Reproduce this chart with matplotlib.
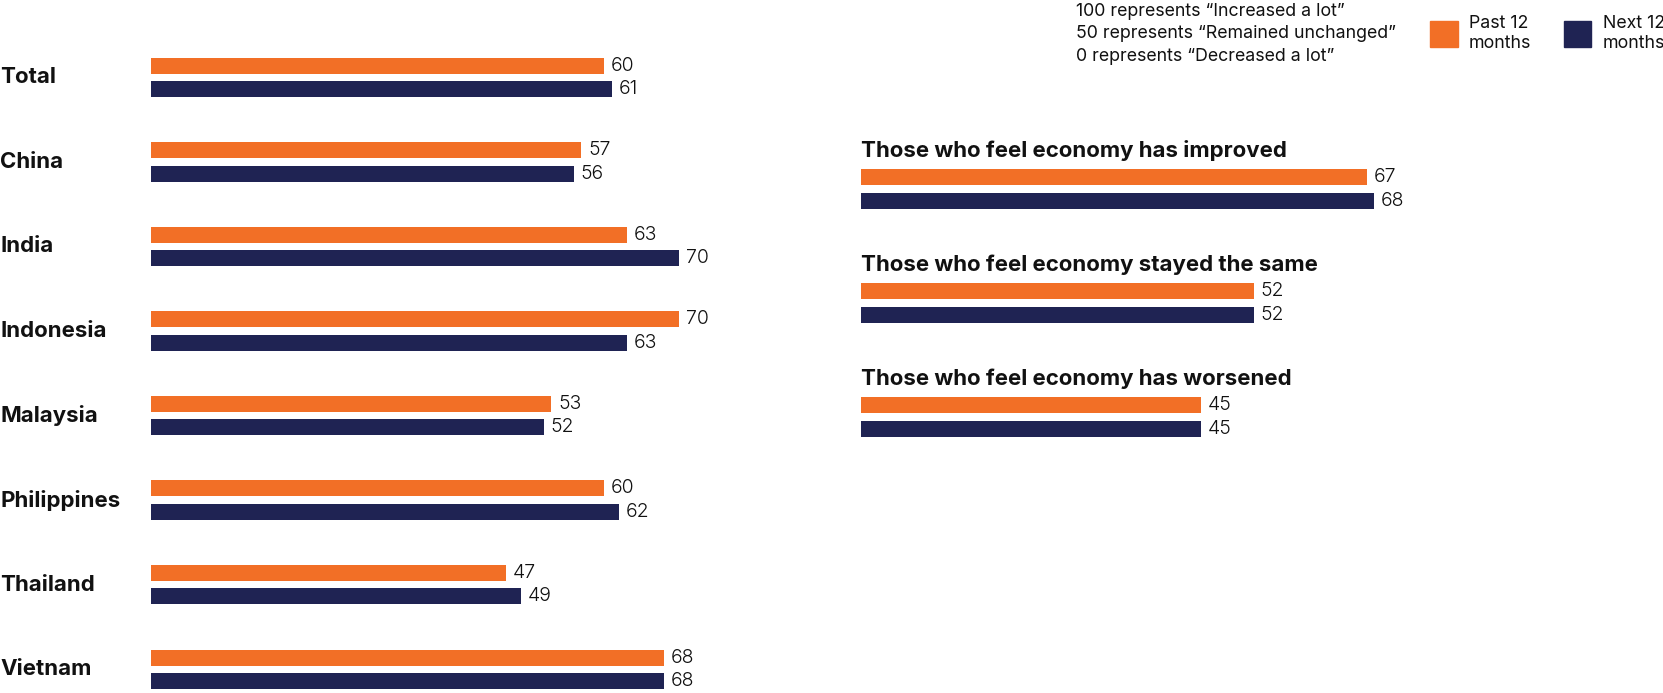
import matplotlib
matplotlib.use('Agg')
import matplotlib.pyplot as plt
from matplotlib.patches import Rectangle

W, H = 1663, 693
DPI = 100

ORANGE = '#F26F26'
NAVY = '#1F2353'
TEXT = '#111111'

countries = ['Total', 'China', 'India', 'Indonesia', 'Malaysia',
             'Philippines', 'Thailand', 'Vietnam']
past_country = [60, 57, 63, 70, 53, 60, 47, 68]
next_country = [61, 56, 70, 63, 52, 62, 49, 68]

segments = ['Those who feel economy has improved',
            'Those who feel economy stayed the same',
            'Those who feel economy has worsened']
past_segment = [67, 52, 45]
next_segment = [68, 52, 45]

notes = ['100 represents \u201cIncreased a lot\u201d',
         '50 represents \u201cRemained unchanged\u201d',
         '0 represents \u201cDecreased a lot\u201d']
series_names = ['Past 12\nmonths', 'Next 12\nmonths']
series_colors = [ORANGE, NAVY]

plt.rcParams['font.family'] = ['Inter', 'DejaVu Sans']
fig = plt.figure(figsize=(W / DPI, H / DPI), dpi=DPI)

PX_PER_UNIT = 7.55   # pixels per value unit, both panels
BAR_PX = 16
OFF_PX = 11.7


def panel(x0, first_px, step_px):
    # axes cover the full figure height; index i lands at first_px + i*step_px
    ax = fig.add_axes([x0 / W, 0, 100 * PX_PER_UNIT / W, 1])
    ax.set_ylim((H - first_px) / step_px, -first_px / step_px)
    ax.set_xlim(0, 100)
    ax.axis('off')
    return ax, OFF_PX / step_px, BAR_PX / step_px


def bars(ax, past, nxt, off, h):
    idx = range(len(past))
    ax.barh([i - off for i in idx], past, height=h, color=ORANGE)
    ax.barh([i + off for i in idx], nxt, height=h, color=NAVY)
    for i in idx:
        ax.text(past[i] + 0.9, i - off, str(past[i]), va='center',
                ha='left', fontsize=14, color=TEXT, fontweight=300)
        ax.text(nxt[i] + 0.9, i + off, str(nxt[i]), va='center',
                ha='left', fontsize=14, color=TEXT, fontweight=300)


# left panel: countries
axl, off, h = panel(151, 77.4, 84.55)
bars(axl, past_country, next_country, off, h)
for i, c in enumerate(countries):
    axl.text(-151 / PX_PER_UNIT, i, c, va='center', ha='left',
             fontsize=16, fontweight='bold', color=TEXT)

# right panel: economic sentiment
axr, off, h = panel(861, 188.8, 114)
bars(axr, past_segment, next_segment, off, h)
for i, s in enumerate(segments):
    axr.text(0, i - 38 / 114, s, va='center', ha='left',
             fontsize=16, fontweight='bold', color=TEXT)

# legend / notes overlay in pixel coords
ov = fig.add_axes([0, 0, 1, 1])
ov.set_xlim(0, W)
ov.set_ylim(H, 0)
ov.axis('off')
ov.patch.set_alpha(0)
for k, t in enumerate(notes):
    ov.text(1076, 11 + k * 22.7, t, fontsize=12.8, va='center',
            ha='left', color=TEXT)
for k, (name, col) in enumerate(zip(series_names, series_colors)):
    x = 1430 + k * 133.6
    ov.add_patch(Rectangle((x, 21), 27.5, 25.5, color=col))
    ov.text(x + 39, 33.5, name, fontsize=12.8, va='center', ha='left',
            color=TEXT, linespacing=1.3)

fig.savefig('out.png', dpi=DPI, facecolor='white')
